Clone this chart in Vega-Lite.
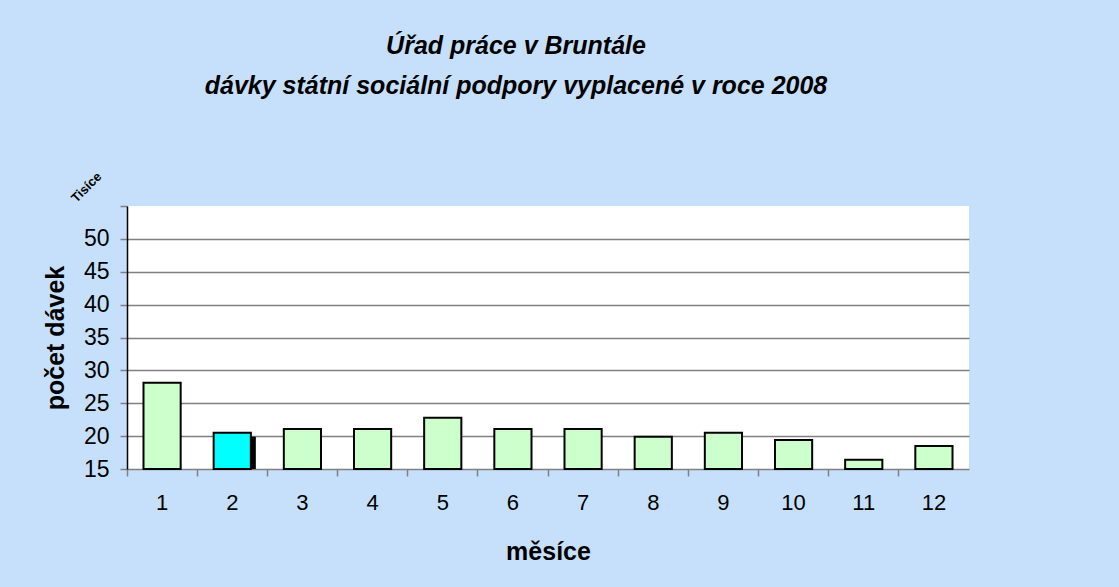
{
  "$schema": "https://vega.github.io/schema/vega-lite/v6.json",
  "width": 842,
  "height": 263,
  "autosize": "none",
  "padding": {"left": 127, "top": 206, "right": 150, "bottom": 118},
  "background": "#c6e0fb",
  "config": {
    "view": {"fill": "white", "stroke": null},
    "font": "Liberation Sans",
    "axisY": {
      "values": [15, 20, 25, 30, 35, 40, 45, 50, 55],
      "labelExpr": "datum.value == 55 ? '' : datum.label",
      "labelOverlap": false,
      "labelFontSize": 23, "labelColor": "black", "labelPadding": 11,
      "tickSize": 7, "tickColor": "#808080", "tickWidth": 1.5,
      "domainColor": "black", "domainWidth": 1.5,
      "grid": true,
      "gridColor": "#808080",
      "gridWidth": 1.5,
      "titleFontSize": 25, "titleFontWeight": "bold", "titleColor": "black",
      "titleX": -72, "titleY": 131.5, "titleAngle": -90, "titleAlign": "center", "titleBaseline": "middle"
    }
  },
  "title": {
    "text": ["Úřad práce v Bruntále", "dávky státní sociální podpory vyplacené v roce 2008"],
    "font": "Liberation Sans",
    "fontSize": 25,
    "fontWeight": "bold",
    "fontStyle": "italic",
    "color": "black",
    "anchor": "middle",
    "frame": "group",
    "dx": -32,
    "baseline": "alphabetic",
    "lineHeight": 40,
    "offset": 51
  },
  "data": {
    "values": [
      {"month": 1, "count": 28.1},
      {"month": 2, "count": 20.5},
      {"month": 3, "count": 21.1},
      {"month": 4, "count": 21.1},
      {"month": 5, "count": 22.8},
      {"month": 6, "count": 21.1},
      {"month": 7, "count": 21.1},
      {"month": 8, "count": 19.9},
      {"month": 9, "count": 20.5},
      {"month": 10, "count": 19.4},
      {"month": 11, "count": 16.4},
      {"month": 12, "count": 18.5}
    ]
  },
  "layer": [
    {
      "transform": [{"filter": "datum.month == 2"}],
      "mark": {"type": "bar", "width": {"band": 0.53}, "fill": "black", "xOffset": 5, "x2Offset": 5, "yOffset": 4, "y2Offset": 0},
      "encoding": {
        "x": {
          "field": "month", "type": "ordinal",
          "scale": {"paddingInner": 0, "paddingOuter": 0},
          "axis": {
            "orient": "top", "labels": false, "ticks": false, "domain": false, "grid": false,
            "title": "Tisíce", "titleAngle": -45, "titleFontSize": 13, "titleFontWeight": "bold",
            "titleX": -41, "titleY": -19, "titleAlign": "center", "titleBaseline": "middle", "titleColor": "black"
          }
        },
        "y": {
          "field": "count", "type": "quantitative",
          "scale": {"domain": [15, 55], "zero": false},
          "axis": {
            "title": "počet dávek",
            "gridColor": {"condition": {"test": "datum.value == 55 || datum.value == 15", "value": "transparent"}, "value": "#808080"}
          }
        },
        "y2": {"datum": 15}
      }
    },
    {
      "mark": {"type": "bar", "width": {"band": 0.53}, "stroke": "black", "strokeWidth": 2},
      "encoding": {
        "x": {
          "field": "month", "type": "ordinal",
          "scale": {"paddingInner": 0, "paddingOuter": 0},
          "axis": {
            "orient": "bottom", "labelAngle": 0, "labelFontSize": 22, "labelColor": "black",
            "labelPadding": 16, "bandPosition": 0, "tickSize": 7, "tickColor": "#808080", "tickWidth": 1.5,
            "domainColor": "#808080", "domainWidth": 1.5, "grid": false,
            "title": "měsíce", "titleFontSize": 25, "titleFontWeight": "bold", "titleColor": "black",
            "titleX": 421, "titleY": 90, "titleBaseline": "alphabetic", "titleAlign": "center"
          }
        },
        "y": {
          "field": "count", "type": "quantitative",
          "scale": {"domain": [15, 55], "zero": false},
          "axis": {
            "title": "počet dávek",
            "gridColor": {"condition": {"test": "datum.value == 55 || datum.value == 15", "value": "transparent"}, "value": "#808080"}
          }
        },
        "y2": {"datum": 15},
        "color": {
          "condition": {"test": "datum.month == 2", "value": "#00ffff"},
          "value": "#ccffcc"
        }
      }
    }
  ],
  "resolve": {"axis": {"x": "independent"}}
}
